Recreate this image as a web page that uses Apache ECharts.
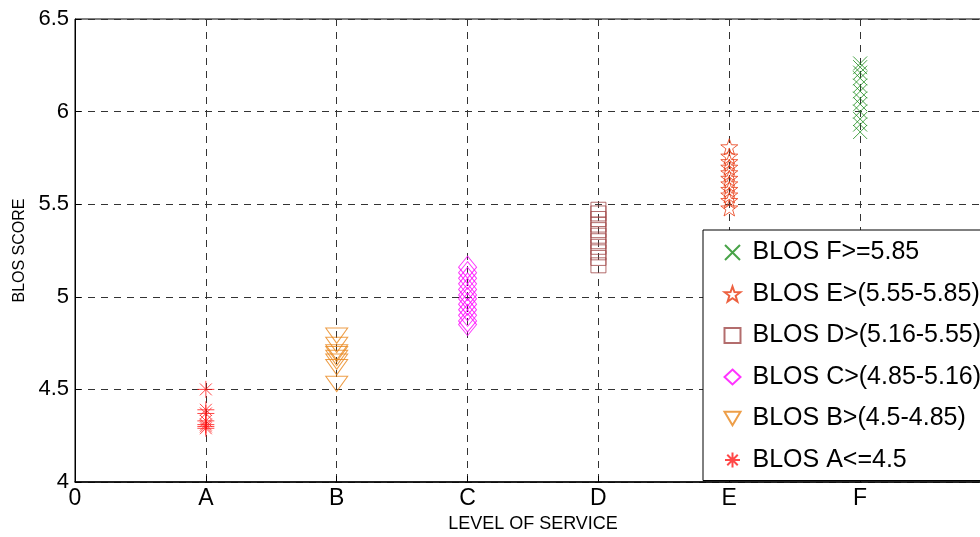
<!DOCTYPE html>
<html>
<head>
<meta charset="utf-8">
<script src="https://cdn.jsdelivr.net/npm/echarts@6/dist/echarts.min.js"></script>
<style>
  html, body { margin: 0; padding: 0; background: #fff; }
  #main { width: 980px; height: 537px; }
</style>
</head>
<body>
<div id="main"></div>
<script>
  // tick labels on the x axis (0..7)
  var levelTicks = ['0', 'A', 'B', 'C', 'D', 'E', 'F', '7'];
  // BLOS scores, one list per level of service
  var scoreA = [4.50, 4.39, 4.37, 4.33, 4.31, 4.30, 4.29];
  var scoreB = [4.79, 4.74, 4.70, 4.69, 4.67, 4.65, 4.62, 4.53];
  var scoreC = [5.16, 5.13, 5.10, 5.07, 5.04, 5.01, 4.99, 4.96, 4.93, 4.90, 4.87, 4.85];
  var scoreD = [5.47, 5.45, 5.42, 5.39, 5.36, 5.33, 5.30, 5.27, 5.24, 5.21, 5.17];
  var scoreE = [5.81, 5.76, 5.73, 5.70, 5.67, 5.64, 5.61, 5.58, 5.55, 5.52, 5.48];
  var scoreF = [6.26, 6.24, 6.21, 6.18, 6.14, 6.11, 6.07, 6.04, 6.00, 5.96, 5.93, 5.89];
  var seriesNames = ['BLOS A<=4.5', 'BLOS B>(4.5-4.85)', 'BLOS C>(4.85-5.16)',
                     'BLOS D>(5.16-5.55)', 'BLOS E>(5.55-5.85)', 'BLOS F>=5.85'];

  var myChart = echarts.init(document.getElementById('main'));

  function pts(level, arr) {
    return arr.map(function (v) { return [level, v]; });
  }

  function makeSeries(name, level, arr, symbol, size, color) {
    return {
      name: name,
      type: 'scatter',
      data: pts(level, arr),
      symbol: symbol,
      symbolSize: size,
      symbolKeepAspect: true,
      itemStyle: { color: 'none', borderColor: color, borderWidth: 1 },
      emphasis: { disabled: true },
      z: 3
    };
  }

  var starPath = 'path://M10,0L12.35,6.76L19.51,6.91L13.8,11.24L15.88,18.09L10,14L4.12,18.09L6.2,11.24L0.49,6.91L7.65,6.76Z';
  var asteriskPath = 'path://M10,0L10,20M0,10L20,10M3,3L17,17M17,3L3,17';
  var crossPath = 'path://M0,0L10,10M10,0L0,10';
  var triDownPath = 'path://M0,0L20,0L10,17Z';

  var option = {
    animation: false,
    grid: {
      left: 75, right: -11, top: 19, bottom: 55,
      outerBoundsMode: 'none',
      containLabel: false,
      show: true, borderColor: '#000', borderWidth: 1, backgroundColor: '#fff'
    },
    legend: {
      orient: 'vertical',
      left: 703, top: 230,
      data: seriesNames.slice().reverse(),
      backgroundColor: '#fff',
      borderColor: '#000',
      borderWidth: 1,
      padding: [10, 40, 8, 19],
      itemWidth: 16, itemHeight: 15,
      itemGap: 16.5,
      textStyle: {
        fontFamily: 'Liberation Sans', fontSize: 25, color: '#000',
        lineHeight: 24, padding: [0, 0, 0, 7]
      }
    },
    xAxis: {
      type: 'value',
      min: 0, max: 7, interval: 1,
      name: 'LEVEL OF SERVICE',
      nameLocation: 'middle',
      nameGap: 33,
      nameTextStyle: { fontFamily: 'Liberation Sans', fontSize: 18, color: '#000' },
      axisLine: { lineStyle: { color: '#000', width: 1.5 } },
      axisTick: { inside: true, length: 6, lineStyle: { color: '#000' } },
      axisLabel: {
        fontFamily: 'Liberation Sans', fontSize: 23, color: '#000', margin: 5,
        formatter: function (v) { return levelTicks[Math.round(v)]; }
      },
      splitLine: { show: true, lineStyle: { color: '#333', type: [7, 6], width: 1 } }
    },
    yAxis: {
      type: 'value',
      min: 4, max: 6.5, interval: 0.5,
      name: 'BLOS SCORE',
      nameLocation: 'middle',
      nameGap: 46,
      nameRotate: 90,
      nameTextStyle: { fontFamily: 'Liberation Sans', fontSize: 16, color: '#000' },
      axisLine: { show: true, lineStyle: { color: '#000', width: 1 } },
      axisTick: { show: true, inside: true, length: 6, lineStyle: { color: '#000' } },
      axisLabel: { fontFamily: 'Liberation Sans', fontSize: 22, color: '#000', margin: 6 },
      splitLine: { show: true, lineStyle: { color: '#333', type: [7, 6], width: 1 } }
    },
    series: [
      makeSeries(seriesNames[0], 1, scoreA, asteriskPath, 17, '#ff1a1a'),
      makeSeries(seriesNames[1], 2, scoreB, triDownPath, [22, 18], '#e8861a'),
      makeSeries(seriesNames[2], 3, scoreC, 'diamond', [18, 22], '#ff00ff'),
      makeSeries(seriesNames[3], 4, scoreD, 'rect', 15, '#a04848'),
      makeSeries(seriesNames[4], 5, scoreE, starPath, 17, '#e83a10'),
      makeSeries(seriesNames[5], 6, scoreF, crossPath, 14, '#1a8c1a')
    ]
  };

  myChart.setOption(option);
</script>
</body>
</html>
